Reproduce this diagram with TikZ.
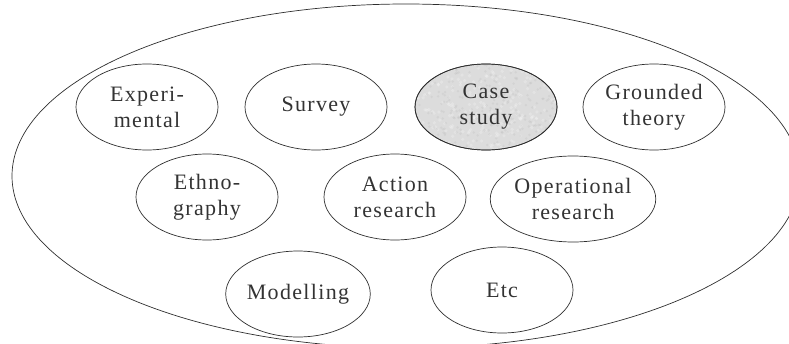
\documentclass[tikz,border=0pt]{standalone}
\usepackage{fontspec}
\setmainfont{Liberation Serif}[LetterSpace=6.0]
\usetikzlibrary{shapes.geometric}
\definecolor{linegray}{HTML}{2E2E2E}
\definecolor{textgray}{HTML}{333333}
\definecolor{casefill}{HTML}{DCDCDC}
\begin{document}
\begin{tikzpicture}[x=1pt,y=-1pt,
  method/.style={ellipse, draw=linegray, line width=0.7pt,
    minimum width=142pt, minimum height=86pt, inner sep=0pt,
    align=center, text=textgray, font=\fontsize{22}{26}\selectfont},
  highlighted/.style={method, fill=casefill},
  outline/.style={draw=linegray, line width=0.7pt}]
  \useasboundingbox (0,0) rectangle (789,343);
  \clip (0,0) rectangle (789,343);
  % enclosing family of research methods
  \draw[outline] (406,176) ellipse [x radius=394, y radius=172];
  % first row
  \node[method] (exp) at (147,107) {Experi-\\mental};
  \node[method] (survey) at (316,107) {Survey};
  \node[highlighted] (case) at (486,107) {};
  % soft granite-like grain inside the highlighted method
  \begin{scope}
    \clip (486,107) ellipse [x radius=70.5, y radius=42.5];
    \pgfmathsetseed{7}
    \foreach \k in {1,...,260} {
      \pgfmathsetmacro{\gx}{486+71*rand}
      \pgfmathsetmacro{\gy}{107+43*rand}
      \fill[white, opacity=0.22] (\gx,\gy) circle [radius=1.8];
    }
    \foreach \k in {1,...,260} {
      \pgfmathsetmacro{\gx}{486+71*rand}
      \pgfmathsetmacro{\gy}{107+43*rand}
      \fill[black!40, opacity=0.12] (\gx,\gy) circle [radius=1.4];
    }
  \end{scope}
  \node[method, draw=none] (casetext) at (case) {Case\\study};
  \draw[outline] (case.center) ellipse [x radius=71, y radius=43];
  \node[method] (grounded) at (654,107) {Grounded\\theory};
  % second row
  \node[method] (ethno) at (207,197) {Ethno-\\graphy};
  \node[method] (action) at (395,197) {Action\\research};
  \node[method] (oper) at (573,199) {Operational\\research};
  % third row
  \node[method] (model) at (298,294) {Modelling};
  \node[method] (etc) at (502,290) {Etc};
\end{tikzpicture}
\end{document}
